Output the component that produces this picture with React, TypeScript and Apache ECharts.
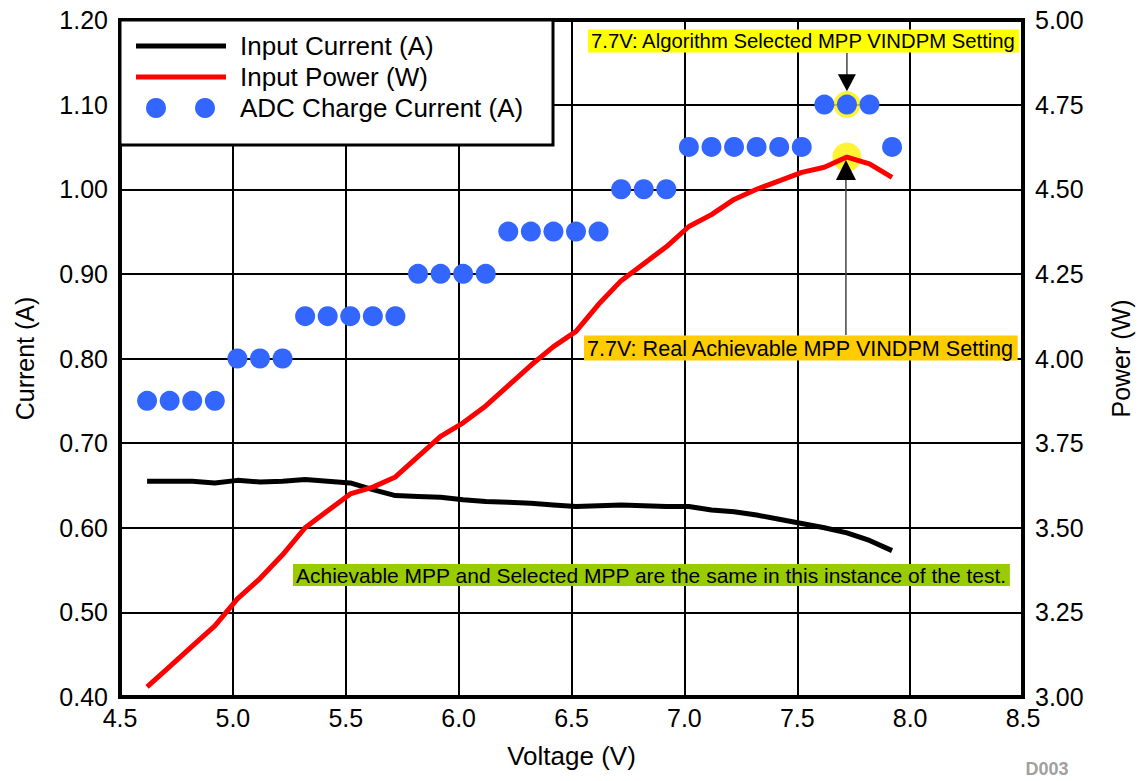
import React, { useEffect, useRef } from "react";
import * as echarts from "echarts";

// ---- Data ----
const voltage = [
  4.62, 4.72, 4.82, 4.92, 5.02, 5.12, 5.22, 5.32, 5.42, 5.52, 5.62, 5.72,
  5.82, 5.92, 6.02, 6.12, 6.22, 6.32, 6.42, 6.52, 6.62, 6.72, 6.82, 6.92,
  7.02, 7.12, 7.22, 7.32, 7.42, 7.52, 7.62, 7.72, 7.82, 7.92,
];
const inputCurrent = [
  0.655, 0.655, 0.655, 0.653, 0.656, 0.654, 0.655, 0.657, 0.655, 0.653, 0.645, 0.638,
  0.637, 0.636, 0.633, 0.631, 0.63, 0.629, 0.627, 0.625, 0.626, 0.627, 0.626, 0.625,
  0.625, 0.621, 0.619, 0.615, 0.61, 0.605, 0.6, 0.594, 0.585, 0.573,
];
const inputPower = [
  3.03, 3.09, 3.15, 3.21, 3.29, 3.35, 3.42, 3.5, 3.55, 3.6, 3.62, 3.65,
  3.71, 3.77, 3.81, 3.86, 3.92, 3.98, 4.035, 4.08, 4.16, 4.23, 4.28, 4.33,
  4.39, 4.425, 4.47, 4.5, 4.525, 4.55, 4.565, 4.595, 4.575, 4.535,
];
const adcChargeCurrent = [
  0.75, 0.75, 0.75, 0.75, 0.8, 0.8, 0.8, 0.85, 0.85, 0.85, 0.85, 0.85,
  0.9, 0.9, 0.9, 0.9, 0.95, 0.95, 0.95, 0.95, 0.95, 1.0, 1.0, 1.0,
  1.05, 1.05, 1.05, 1.05, 1.05, 1.05, 1.1, 1.1, 1.1, 1.05,
];
const selectedIndex = 31; // 7.7 V point

const seriesNames = ["Input Current (A)", "Input Power (W)", "ADC Charge Current (A)"];
const noteSelected = "7.7V: Algorithm Selected MPP VINDPM Setting";
const noteAchievable = "7.7V: Real Achievable MPP VINDPM Setting";
const noteSame = "Achievable MPP and Selected MPP are the same in this instance of the test.";

const FONT = "Liberation Sans, Arial, sans-serif";

export default function App() {
  const ref = useRef<HTMLDivElement>(null);

  useEffect(() => {
    if (!ref.current) return;
    const chart = echarts.init(ref.current, undefined, { renderer: "svg" });

    const pairs = (ys: number[]) => voltage.map((v, i) => [v, ys[i]]);

    chart.setOption({
      animation: false,
      backgroundColor: "#ffffff",
      textStyle: { fontFamily: FONT },
      grid: {
        left: 120,
        right: 113,
        top: 20,
        bottom: 84,
        show: true,
        borderColor: "#000",
        borderWidth: 4,
        backgroundColor: "transparent",
      },
      xAxis: {
        type: "value",
        min: 4.5,
        max: 8.5,
        interval: 0.5,
        name: "Voltage (V)",
        nameLocation: "middle",
        nameGap: 46,
        nameTextStyle: { fontSize: 26, color: "#000", fontFamily: FONT },
        axisLine: { show: true, lineStyle: { color: "#000", width: 4 } },
        axisTick: { show: false },
        axisLabel: {
          fontSize: 25,
          color: "#000",
          margin: 8,
          fontFamily: FONT,
          formatter: (v: number) => v.toFixed(1),
        },
        splitLine: { show: true, lineStyle: { color: "#000", width: 2 } },
      },
      yAxis: [
        {
          type: "value",
          min: 0.4,
          max: 1.2,
          interval: 0.1,
          name: "Current (A)",
          nameLocation: "middle",
          nameRotate: 90,
          nameGap: 83,
          nameTextStyle: { fontSize: 25, color: "#000", fontFamily: FONT },
          axisLine: { show: true, lineStyle: { color: "#000", width: 4 } },
          axisTick: { show: false },
          axisLabel: {
            fontSize: 25,
            color: "#000",
            margin: 12,
            fontFamily: FONT,
            formatter: (v: number) => v.toFixed(2),
          },
          splitLine: { show: true, lineStyle: { color: "#000", width: 2 } },
        },
        {
          type: "value",
          min: 3,
          max: 5,
          interval: 0.25,
          position: "right",
          name: "Power (W)",
          nameLocation: "middle",
          nameRotate: 90,
          nameGap: 85,
          nameTextStyle: { fontSize: 25, color: "#000", fontFamily: FONT },
          axisLine: { show: true, lineStyle: { color: "#000", width: 4 } },
          axisTick: { show: false },
          axisLabel: {
            fontSize: 25,
            color: "#000",
            margin: 12,
            fontFamily: FONT,
            formatter: (v: number) => v.toFixed(2),
          },
          splitLine: { show: false },
        },
      ],
      series: [
        {
          name: "Achievable MPP",
          type: "scatter",
          yAxisIndex: 1,
          data: [[voltage[selectedIndex], inputPower[selectedIndex]]],
          symbolSize: 29,
          itemStyle: { color: "#fff000" },
          z: 1,
          silent: true,
        },
        {
          name: seriesNames[0],
          type: "line",
          yAxisIndex: 0,
          data: pairs(inputCurrent),
          showSymbol: false,
          symbol: "none",
          lineStyle: { color: "#000", width: 5 },
          z: 2,
        },
        {
          name: seriesNames[1],
          type: "line",
          yAxisIndex: 1,
          data: pairs(inputPower),
          showSymbol: false,
          symbol: "none",
          lineStyle: { color: "#ff0000", width: 5 },
          z: 3,
        },
        {
          name: "Selected MPP",
          type: "scatter",
          yAxisIndex: 0,
          data: [[voltage[selectedIndex], adcChargeCurrent[selectedIndex]]],
          symbolSize: 27,
          itemStyle: { color: "#fff000" },
          z: 4,
          silent: true,
        },
        {
          name: seriesNames[2],
          type: "scatter",
          yAxisIndex: 0,
          data: pairs(adcChargeCurrent),
          symbolSize: 20,
          itemStyle: { color: "#3366ff", opacity: 1 },
          z: 5,
        },
      ],
    });

    const sel = chart.convertToPixel({ xAxisIndex: 0, yAxisIndex: 0 }, [
      voltage[selectedIndex],
      adcChargeCurrent[selectedIndex],
    ]) as number[];
    const ach = chart.convertToPixel({ xAxisIndex: 0, yAxisIndex: 1 }, [
      voltage[selectedIndex],
      inputPower[selectedIndex],
    ]) as number[];

    const topTip = sel[1] - 13.5;
    const botTip = ach[1] + 3;
    const arrowColor = "#444";

    chart.setOption({
      graphic: [
        // Legend box
        {
          type: "rect",
          z: 100,
          shape: { x: 120, y: 20, width: 433, height: 125 },
          style: { fill: "#fff", stroke: "#000", lineWidth: 3 },
        },
        {
          type: "line",
          z: 101,
          shape: { x1: 136, y1: 46, x2: 226, y2: 46 },
          style: { stroke: "#000", lineWidth: 5 },
        },
        {
          type: "line",
          z: 101,
          shape: { x1: 136, y1: 77, x2: 226, y2: 77 },
          style: { stroke: "#ff0000", lineWidth: 5 },
        },
        { type: "circle", z: 101, shape: { cx: 156, cy: 108, r: 10 }, style: { fill: "#3366ff" } },
        { type: "circle", z: 101, shape: { cx: 205, cy: 108, r: 10 }, style: { fill: "#3366ff" } },
        ...seriesNames.map((n, i) => ({
          type: "text",
          z: 101,
          x: 240,
          y: 46 + i * 31,
          style: {
            text: n,
            fill: "#000",
            font: `26px ${FONT}`,
            verticalAlign: "middle",
          },
        })),
        // Top annotation (selected)
        {
          type: "text",
          z: 110,
          x: 588,
          y: 41,
          style: {
            text: noteSelected,
            fill: "#000",
            font: `20.3px ${FONT}`,
            verticalAlign: "middle",
            backgroundColor: "#ffff00",
            padding: [2, 3, 1, 3],
          },
        },
        {
          type: "line",
          z: 110,
          shape: { x1: sel[0], y1: 53, x2: sel[0], y2: topTip - 16 },
          style: { stroke: arrowColor, lineWidth: 1.5 },
        },
        {
          type: "polygon",
          z: 110,
          shape: {
            points: [
              [sel[0] - 9, topTip - 17],
              [sel[0] + 9, topTip - 17],
              [sel[0], topTip],
            ],
          },
          style: { fill: "#000" },
        },
        // Bottom annotation (achievable)
        {
          type: "text",
          z: 110,
          x: 584,
          y: 348,
          style: {
            text: noteAchievable,
            fill: "#000",
            font: `21.6px ${FONT}`,
            verticalAlign: "middle",
            backgroundColor: "#ffcc00",
            padding: [2, 3, 1, 3],
          },
        },
        {
          type: "line",
          z: 110,
          shape: { x1: ach[0] - 1, y1: 335, x2: ach[0] - 1, y2: botTip + 19 },
          style: { stroke: arrowColor, lineWidth: 1.5 },
        },
        {
          type: "polygon",
          z: 110,
          shape: {
            points: [
              [ach[0] - 11, botTip + 20],
              [ach[0] + 9, botTip + 20],
              [ach[0] - 1, botTip],
            ],
          },
          style: { fill: "#000" },
        },
        // Green note
        {
          type: "text",
          z: 110,
          x: 293,
          y: 575,
          style: {
            text: noteSame,
            fill: "#000",
            font: `21px ${FONT}`,
            verticalAlign: "middle",
            backgroundColor: "#99cc00",
            padding: [1, 3, 0, 3],
          },
        },
        // Figure id
        {
          type: "text",
          z: 110,
          x: 1047,
          y: 769,
          style: {
            text: "D003",
            fill: "#a0a0a0",
            font: `bold 18px ${FONT}`,
            align: "center",
            verticalAlign: "middle",
          },
        },
      ],
    });

    return () => chart.dispose();
  }, []);

  return (
    <div
      ref={ref}
      style={{ position: "fixed", left: 0, top: 0, width: 1141, height: 781, background: "#fff" }}
    />
  );
}
